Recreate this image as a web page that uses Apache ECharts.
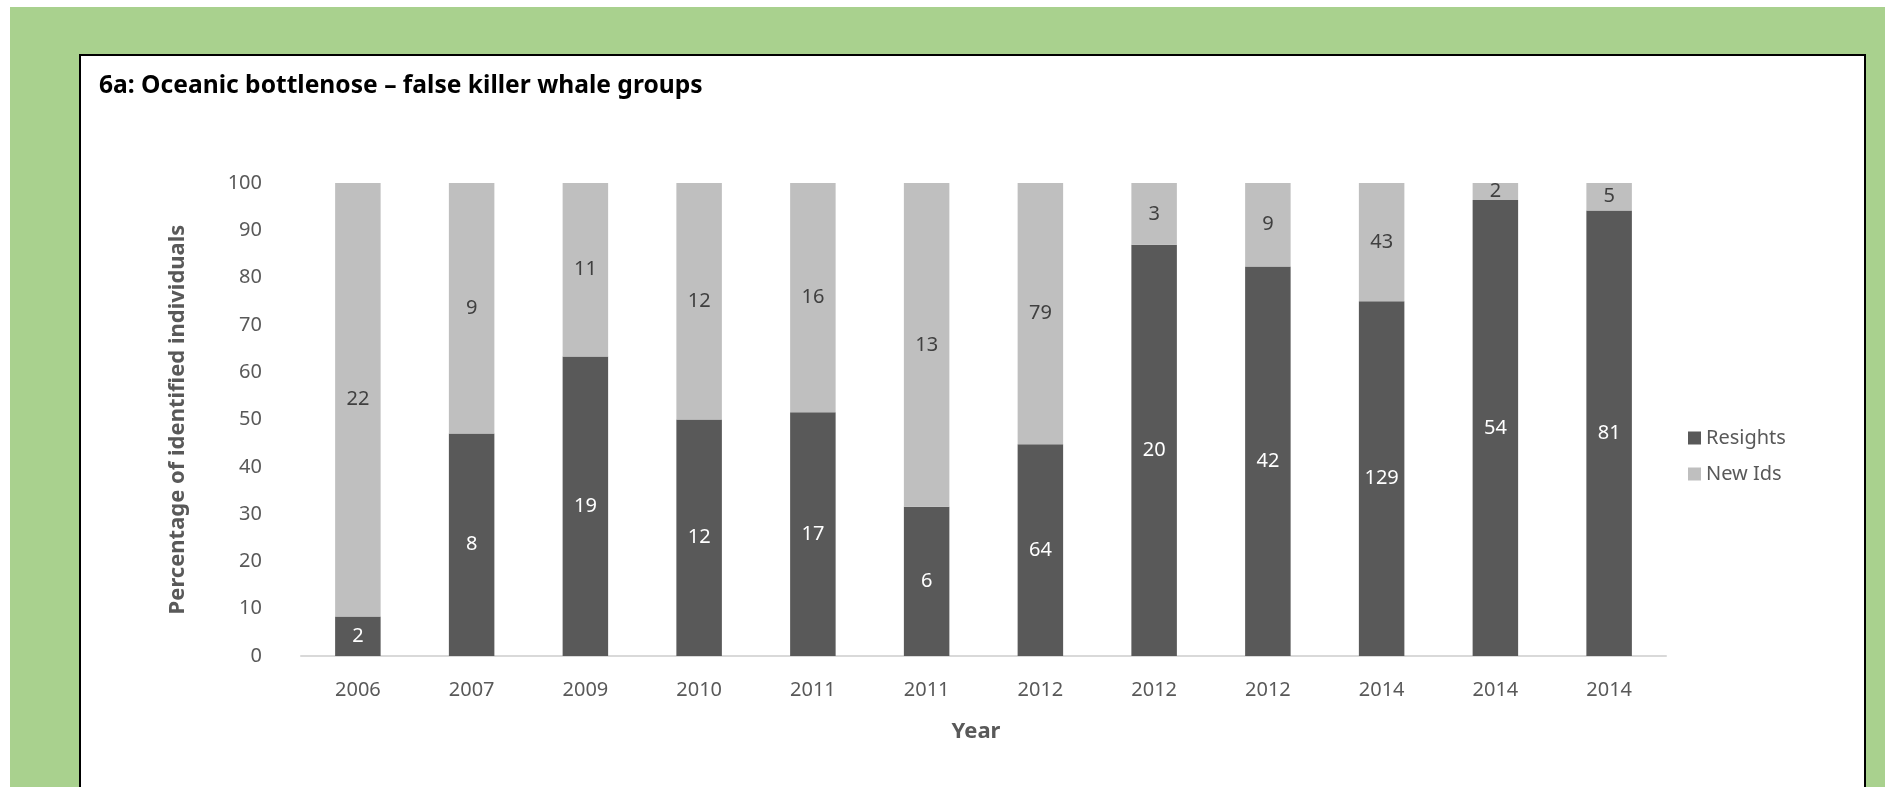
<!DOCTYPE html>
<html><head><meta charset="utf-8">
<script src="https://cdn.jsdelivr.net/npm/echarts@6/dist/echarts.min.js"></script>
<style>
html,body{margin:0;padding:0;background:#fff;width:1901px;height:787px;overflow:hidden;}
#green{position:absolute;left:10px;top:7px;width:1875px;height:790px;background:#a9d18e;}
#panel{position:absolute;left:79px;top:54px;width:1783px;height:800px;background:#fff;border:2px solid #000;}
#chart{position:absolute;left:0;top:0;width:1901px;height:787px;}
</style></head>
<body>
<div id="green"></div><div id="panel"></div><div id="chart"></div>
<script>
const titleText = '6a: Oceanic bottlenose \u2013 false killer whale groups';
const years = ['2006','2007','2009','2010','2011','2011','2012','2012','2012','2014','2014','2014'];
const resights = [2, 8, 19, 12, 17, 6, 64, 20, 42, 129, 54, 81];
const newIds = [22, 9, 11, 12, 16, 13, 79, 3, 9, 43, 2, 5];
const seriesNames = ['Resights', 'New Ids'];

const resPct = resights.map((r, i) => r / (r + newIds[i]) * 100);
const newPct = newIds.map((n, i) => n / (resights[i] + n) * 100);

const FONT = 'Noto Sans';
const chart = echarts.init(document.getElementById('chart'), null, {renderer: 'canvas'});
chart.setOption({
  backgroundColor: 'transparent',
  animation: false,
  title: {
    text: titleText, left: 94, top: 68,
    textStyle: {fontFamily: FONT, fontWeight: 'bold', fontSize: 24.6, color: '#000'}
  },
  legend: {
    orient: 'vertical', left: 1683, top: 423,
    itemWidth: 13, itemHeight: 13, itemGap: 16,
    icon: 'rect',
    textStyle: {fontFamily: FONT, fontSize: 20, color: '#595959'},
    data: seriesNames
  },
  grid: {left: 301, right: 235, top: 183, bottom: 131, containLabel: false},
  xAxis: {
    type: 'category', data: years,
    name: 'Year', nameLocation: 'middle', nameGap: 65,
    nameTextStyle: {fontFamily: FONT, fontWeight: 'bold', fontSize: 22, color: '#595959', padding: [0, 15, 0, 0]},
    axisLine: {lineStyle: {color: '#d9d9d9', width: 2}},
    axisTick: {show: false},
    axisLabel: {interval: 0, margin: 24, fontFamily: FONT, fontSize: 20, color: '#595959'}
  },
  yAxis: {
    type: 'value', min: 0, max: 100, interval: 10,
    name: 'Percentage of identified individuals', nameLocation: 'middle', nameGap: 112,
    nameTextStyle: {fontFamily: FONT, fontWeight: 'bold', fontSize: 22, color: '#595959'},
    axisLine: {show: false}, axisTick: {show: false},
    splitLine: {show: false},
    axisLabel: {margin: 39, fontFamily: FONT, fontSize: 20, color: '#595959'}
  },
  series: [
    {
      name: seriesNames[0], type: 'bar', stack: 'total', barWidth: '40%',
      itemStyle: {color: '#595959'},
      label: {show: true, position: 'inside', fontFamily: FONT, fontSize: 20, color: '#ffffff',
        formatter: p => String(resights[p.dataIndex])},
      data: resPct
    },
    {
      name: seriesNames[1], type: 'bar', stack: 'total', barWidth: '40%',
      itemStyle: {color: '#bfbfbf'},
      label: {show: true, position: 'inside', fontFamily: FONT, fontSize: 20, color: '#404040',
        formatter: p => String(newIds[p.dataIndex])},
      data: newPct
    }
  ]
});
</script>
</body></html>
